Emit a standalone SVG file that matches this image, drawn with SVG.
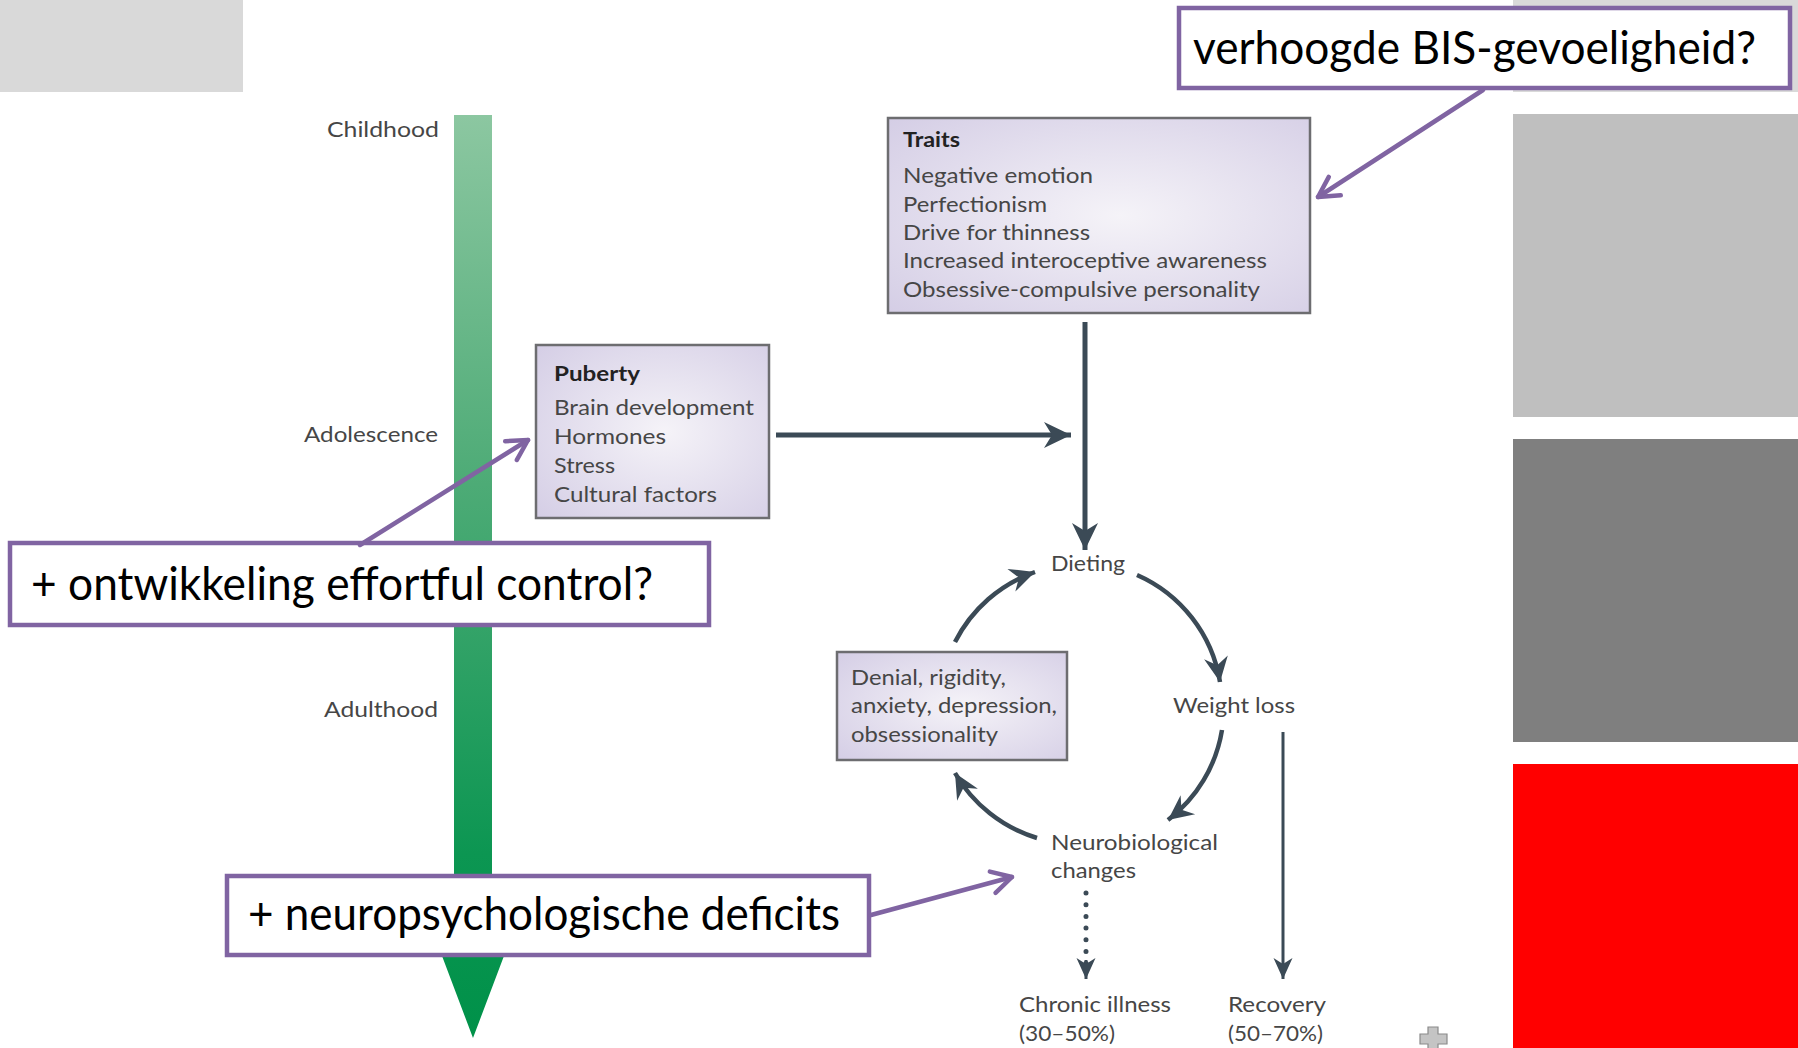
<svg xmlns="http://www.w3.org/2000/svg" width="1798" height="1048" viewBox="0 0 1798 1048">
<defs>
  <linearGradient id="barGrad" gradientUnits="userSpaceOnUse" x1="0" y1="115" x2="0" y2="1038">
    <stop offset="0" stop-color="#8cc7a1"/>
    <stop offset="0.4" stop-color="#4dab76"/>
    <stop offset="0.8" stop-color="#0c9652"/>
    <stop offset="1" stop-color="#009149"/>
  </linearGradient>
  <radialGradient id="boxGrad" cx="0.55" cy="0.5" r="0.75">
    <stop offset="0" stop-color="#f5f3f8"/>
    <stop offset="1" stop-color="#d4cde5"/>
  </radialGradient>
  <marker id="headBig" markerUnits="userSpaceOnUse" viewBox="-28 -15 30 30" markerWidth="30" markerHeight="30" refX="0" refY="0" orient="auto">
    <path d="M0,0 L-27,-13 L-19,0 L-27,13 Z" fill="#3b4a56"/>
  </marker>
  <marker id="headCyc" markerUnits="userSpaceOnUse" viewBox="-26 -14 28 28" markerWidth="28" markerHeight="28" refX="0" refY="0" orient="auto">
    <path d="M0,0 L-25,-12 L-17,0 L-25,12 Z" fill="#3b4a56"/>
  </marker>
  <marker id="headThin" markerUnits="userSpaceOnUse" viewBox="-22 -11 24 22" markerWidth="24" markerHeight="22" refX="0" refY="0" orient="auto">
    <path d="M0,0 L-21,-9.5 L-15,0 L-21,9.5 Z" fill="#3b4a56"/>
  </marker>
  <marker id="chev" markerUnits="userSpaceOnUse" viewBox="-26 -16 30 32" markerWidth="30" markerHeight="32" refX="0" refY="0" orient="auto">
    <path d="M-20,-11 L0,0 L-20,11" fill="none" stroke="#8064a2" stroke-width="4.5" stroke-linecap="round" stroke-linejoin="round"/>
  </marker>
</defs>
<style>
  .lbl{font-family:Lato,"Liberation Sans",sans-serif;font-size:21px;fill:#464646}
  .bold{font-weight:bold;fill:#222222}
  .box{fill:url(#boxGrad);stroke:#6d6d70;stroke-width:2.5}
  .conn{fill:none;stroke:#3b4a56;stroke-width:5}
  .cyc{fill:none;stroke:#3b4a56;stroke-width:4.5}
  .thin{fill:none;stroke:#3b4a56;stroke-width:3}
  .dots{fill:none;stroke:#3b4a56;stroke-width:5;stroke-linecap:round;stroke-dasharray:0 11.7}
  .call{fill:#ffffff;stroke:#8064a2;stroke-width:4.5}
  .calltxt{font-family:Lato,"Liberation Sans",sans-serif;font-size:47px;fill:#000000}
  .callarrow{fill:none;stroke:#8064a2;stroke-width:4.5;stroke-linecap:round}
</style>

<g id="background">
  <rect x="0" y="0" width="243" height="92" fill="#d9d9d9"/>
  <rect x="1513" y="0" width="285" height="92" fill="#d9d9d9"/>
  <rect x="1513" y="114" width="285" height="303" fill="#bfbfbf"/>
  <rect x="1513" y="439" width="285" height="303" fill="#7f7f7f"/>
  <rect x="1513" y="764" width="285" height="284" fill="#ff0000"/>
</g>

<g id="timeline">
  <path d="M454,115 H492 V940 H510 L473,1038 L436,940 H454 Z" fill="url(#barGrad)"/>
  <text class="lbl" x="327" y="137" textLength="112" lengthAdjust="spacingAndGlyphs">Childhood</text>
  <text class="lbl" x="304" y="442" textLength="134" lengthAdjust="spacingAndGlyphs">Adolescence</text>
  <text class="lbl" x="324" y="717" textLength="114" lengthAdjust="spacingAndGlyphs">Adulthood</text>
</g>

<g id="puberty">
  <rect class="box" x="536" y="345" width="233" height="173"/>
  <text class="lbl bold" x="554" y="381" textLength="86" lengthAdjust="spacingAndGlyphs">Puberty</text>
  <text class="lbl" x="554" y="415" textLength="200" lengthAdjust="spacingAndGlyphs">Brain development</text>
  <text class="lbl" x="554" y="444" textLength="112" lengthAdjust="spacingAndGlyphs">Hormones</text>
  <text class="lbl" x="554" y="473" textLength="61" lengthAdjust="spacingAndGlyphs">Stress</text>
  <text class="lbl" x="554" y="502" textLength="163" lengthAdjust="spacingAndGlyphs">Cultural factors</text>
</g>

<g id="traits">
  <rect class="box" x="888" y="118" width="422" height="195"/>
  <text class="lbl bold" x="903" y="147" textLength="57" lengthAdjust="spacingAndGlyphs">Traits</text>
  <text class="lbl" x="903" y="183" textLength="190" lengthAdjust="spacingAndGlyphs">Negative emotion</text>
  <text class="lbl" x="903" y="212" textLength="144" lengthAdjust="spacingAndGlyphs">Perfectionism</text>
  <text class="lbl" x="903" y="240" textLength="187" lengthAdjust="spacingAndGlyphs">Drive for thinness</text>
  <text class="lbl" x="903" y="268" textLength="364" lengthAdjust="spacingAndGlyphs">Increased interoceptive awareness</text>
  <text class="lbl" x="903" y="297" textLength="357" lengthAdjust="spacingAndGlyphs">Obsessive-compulsive personality</text>
</g>

<g id="dieting">
  <text class="lbl" x="1051" y="571" textLength="74" lengthAdjust="spacingAndGlyphs">Dieting</text>
</g>
<g id="weight-loss">
  <text class="lbl" x="1173" y="713" textLength="122" lengthAdjust="spacingAndGlyphs">Weight loss</text>
</g>
<g id="neurobiological">
  <text class="lbl" x="1051" y="850" textLength="167" lengthAdjust="spacingAndGlyphs">Neurobiological</text>
  <text class="lbl" x="1051" y="878" textLength="85" lengthAdjust="spacingAndGlyphs">changes</text>
</g>
<g id="denial">
  <rect class="box" x="837" y="652" width="230" height="108"/>
  <text class="lbl" x="851" y="685" textLength="155" lengthAdjust="spacingAndGlyphs">Denial, rigidity,</text>
  <text class="lbl" x="851" y="713" textLength="206" lengthAdjust="spacingAndGlyphs">anxiety, depression,</text>
  <text class="lbl" x="851" y="742" textLength="147" lengthAdjust="spacingAndGlyphs">obsessionality</text>
</g>
<g id="chronic">
  <text class="lbl" x="1019" y="1012" textLength="152" lengthAdjust="spacingAndGlyphs">Chronic illness</text>
  <text class="lbl" x="1019" y="1041" textLength="96" lengthAdjust="spacingAndGlyphs">(30–50%)</text>
</g>
<g id="recovery">
  <text class="lbl" x="1228" y="1012" textLength="98" lengthAdjust="spacingAndGlyphs">Recovery</text>
  <text class="lbl" x="1228" y="1041" textLength="95" lengthAdjust="spacingAndGlyphs">(50–70%)</text>
</g>

<g id="connectors">
  <path class="conn" d="M776,435 L1071,435" marker-end="url(#headBig)"/>
  <path class="conn" d="M1085,322 L1085,550" marker-end="url(#headBig)"/>
  <path class="cyc" d="M955,642 A142,142 0 0 1 1035,572" marker-end="url(#headCyc)"/>
  <path class="cyc" d="M1137,575 A142,142 0 0 1 1220,682" marker-end="url(#headCyc)"/>
  <path class="cyc" d="M1222,730 A142,142 0 0 1 1168,820" marker-end="url(#headCyc)"/>
  <path class="cyc" d="M1037,838 A142,142 0 0 1 955,773" marker-end="url(#headCyc)"/>
  <path class="dots" d="M1086,893 L1086,966"/>
  <path class="thin" d="M1086,960 L1086,979" marker-end="url(#headThin)"/>
  <path class="thin" d="M1283,732 L1283,979" marker-end="url(#headThin)"/>
</g>

<g id="plus-icon">
  <path d="M1428,1027 H1438 V1034 H1447 V1044 H1438 V1050 H1428 V1044 H1420 V1034 H1428 Z" fill="#c4c4c4" stroke="#8a8a8a" stroke-width="1.2"/>
</g>

<g id="callout-bis">
  <rect class="call" x="1179" y="8" width="611" height="80"/>
  <text class="calltxt" x="1193" y="64" textLength="563" lengthAdjust="spacingAndGlyphs">verhoogde BIS-gevoeligheid?</text>
</g>
<g id="callout-effortful">
  <rect class="call" x="10" y="543" width="699" height="82"/>
  <text class="calltxt" x="31" y="600" textLength="622" lengthAdjust="spacingAndGlyphs">+ ontwikkeling effortful control?</text>
</g>
<g id="callout-neuro">
  <rect class="call" x="227" y="876" width="642" height="79"/>
  <text class="calltxt" x="248" y="930" textLength="592" lengthAdjust="spacingAndGlyphs">+ neuropsychologische deficits</text>
</g>

<g id="callout-connectors">
  <path class="callarrow" d="M1483,90 L1318,197" marker-end="url(#chev)"/>
  <path class="callarrow" d="M360,545 L528,440" marker-end="url(#chev)"/>
  <path class="callarrow" d="M871,915 L1012,877" marker-end="url(#chev)"/>
</g>
</svg>
